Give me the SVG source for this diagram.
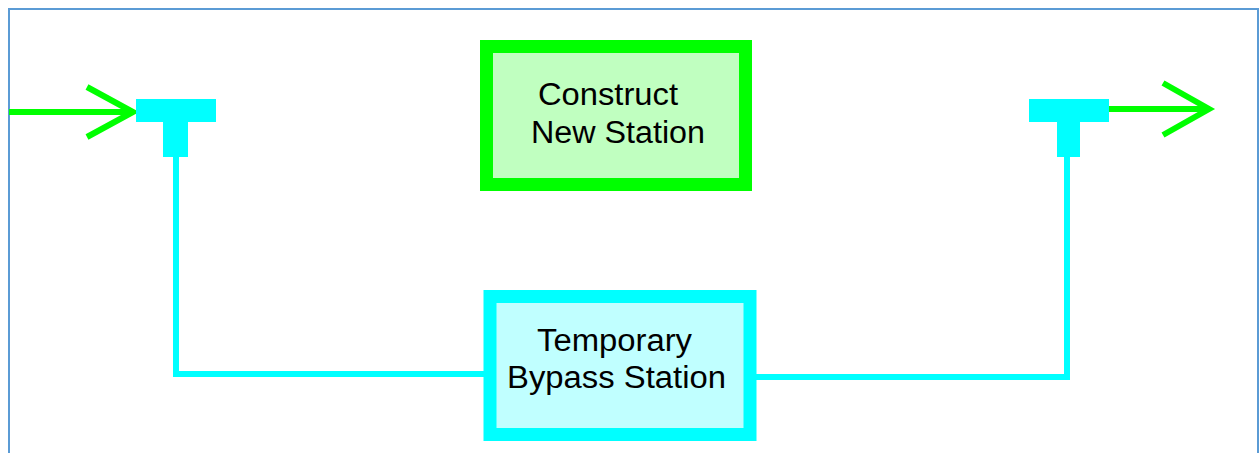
<svg xmlns="http://www.w3.org/2000/svg" width="1259" height="453" viewBox="0 0 1259 453">
  <style>
    .frame { fill: none; stroke: #5B9BD5; stroke-width: 2; }
    .flow { fill: none; stroke: #00FF00; stroke-width: 6; }
    .pipe { fill: none; stroke: #00FFFF; stroke-width: 6; }
    .tee { fill: #00FFFF; }
    .label { font-family: "Liberation Sans", Arial, sans-serif; font-size: 31px; fill: #000000; }
  </style>
  <rect width="1259" height="453" fill="#FFFFFF"/>
  <rect class="frame" x="9" y="9" width="1249" height="460"/>

  <!-- connectors: main flow in/out and bypass pipe -->
  <g id="connectors">
    <path class="flow" d="M9,112 H134 M87,87 L133,112 L87,137"/>
    <path class="flow" d="M1109,109 H1210 M1163,83 L1209,109 L1163,135"/>
    <path class="pipe" d="M176,157 V374 H484"/>
    <path class="pipe" d="M756,377 H1067 V157"/>
  </g>

  <!-- tee fittings -->
  <g id="tee-in">
    <rect class="tee" x="136" y="99" width="80" height="23"/>
    <rect class="tee" x="163" y="121" width="25" height="36"/>
  </g>
  <g id="tee-out">
    <rect class="tee" x="1029" y="99" width="80" height="23"/>
    <rect class="tee" x="1057" y="121" width="23" height="36"/>
  </g>

  <g id="construct-new-station">
    <rect x="486.5" y="46.5" width="259" height="138" fill="#C0FFC0" stroke="#00FF00" stroke-width="13"/>
    <text class="label" x="538" y="105" textLength="140" lengthAdjust="spacingAndGlyphs">Construct</text>
    <text class="label" x="531" y="143" textLength="174" lengthAdjust="spacingAndGlyphs">New Station</text>
  </g>

  <g id="temporary-bypass-station">
    <rect x="490" y="296.5" width="260" height="138" fill="#C0FFFF" stroke="#00FFFF" stroke-width="13"/>
    <text class="label" x="537" y="351" textLength="155" lengthAdjust="spacingAndGlyphs">Temporary</text>
    <text class="label" x="507" y="388" textLength="219" lengthAdjust="spacingAndGlyphs">Bypass Station</text>
  </g>
</svg>
